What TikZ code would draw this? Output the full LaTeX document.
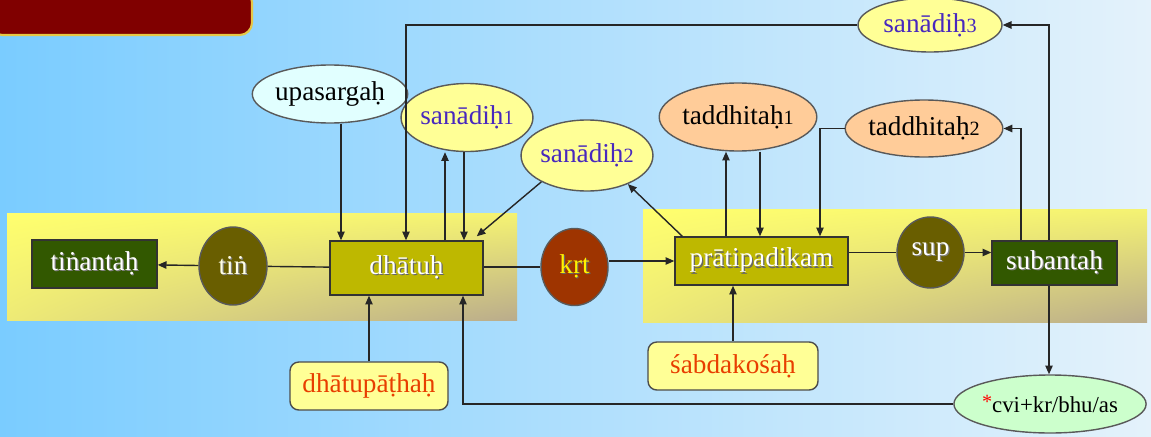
\documentclass[tikz,border=0pt]{standalone}
\usepackage{fontspec}
\setmainfont{Liberation Serif}
\usetikzlibrary{shapes.geometric,arrows.meta,calc,shadings}
\definecolor{bgL}{RGB}{122,204,255}
\definecolor{bgR}{RGB}{228,242,251}
\definecolor{bandY}{RGB}{255,255,110}
\definecolor{bandG}{RGB}{186,172,140}
\definecolor{dgreen}{RGB}{50,88,0}
\definecolor{olbox}{RGB}{190,184,0}
\definecolor{olcirc}{RGB}{105,94,0}
\definecolor{krtc}{RGB}{158,52,0}
\definecolor{lyel}{RGB}{255,255,150}
\definecolor{peach}{RGB}{255,204,153}
\definecolor{lcyan}{RGB}{225,255,255}
\definecolor{lgreen}{RGB}{204,255,204}
\definecolor{btext}{RGB}{72,40,190}
\definecolor{rtext}{RGB}{232,62,0}
\definecolor{tred}{RGB}{128,0,0}
\definecolor{tyel}{RGB}{230,200,70}
\newcommand{\shtx}[2]{\makebox[0pt][l]{\hspace{0.7pt}\raisebox{-0.7pt}{\color{#1}#2}}#2}
\newcommand{\sm}[1]{{\fontsize{11.5}{11.5}\selectfont #1}}
\begin{document}
\begin{tikzpicture}[x=0.02cm,y=-0.02cm,
  font=\rmfamily\fontsize{15.5}{18}\selectfont,
  ln/.style={draw=black!85, line width=0.8pt},
  arr/.style={ln, -{Triangle[length=5pt,width=4.2pt]}},
  rbox/.style={rectangle, draw=black!80, line width=0.8pt, inner sep=0pt},
  ell/.style={ellipse, draw=black!65, line width=0.8pt, inner sep=0pt},
  refbox/.style={rectangle, rounded corners=5pt, draw=black!70, line width=0.8pt, fill=lyel, text=rtext, inner sep=0pt}]
\useasboundingbox (0,0) rectangle (1151,436);
\shade[left color=bgL, right color=bgR] (0,0) rectangle (1151,436);
% title box
\draw[fill=tred, draw=tyel, line width=1.2pt, rounded corners=7pt] (-10,-10) -- (252,-10) -- (252,35) -- (-10,35) -- cycle;
% bands
\shade[upper left=bandY, upper right=bandY!85!bandG, lower left=bandY!75!bandG, lower right=bandG] (7,213) rectangle (517,320);
\shade[upper left=bandY, upper right=bandY!85!bandG, lower left=bandY!75!bandG, lower right=bandG] (643,209) rectangle (1147,322);
% main nodes
\node[rbox, fill=dgreen, minimum width=125*0.02cm, minimum height=48*0.02cm, text=white] (tinanta) at (94.5,264) {\shtx{black!50}{tiṅantaḥ}};
\node[ell, fill=olcirc, minimum width=68*0.02cm, minimum height=78*0.02cm, text=white!90!yellow] (tin) at (233,266) {\shtx{black!50}{tiṅ}};
\node[rbox, fill=olbox, minimum width=153*0.02cm, minimum height=54*0.02cm, text=white] (dhatu) at (406.5,268) {\shtx{black!60}{dhātuḥ}};
\node[ell, fill=krtc, minimum width=67*0.02cm, minimum height=77*0.02cm, text=yellow] (krt) at (574.5,267) {\shtx{black!60}{kṛt}};
\node[rbox, fill=olbox, minimum width=173*0.02cm, minimum height=48*0.02cm, text=white] (prati) at (761.5,261) {\shtx{black!60}{prātipadikam}};
\node[ell, fill=olcirc, minimum width=67*0.02cm, minimum height=71*0.02cm, text=white] (sup) at (930.5,252.5) {\raisebox{4pt}{\shtx{black!50}{sup}}};
\node[rbox, fill=dgreen, minimum width=125*0.02cm, minimum height=44*0.02cm, text=white] (suba) at (1054.5,263) {\shtx{black!50}{subantaḥ}};
% upper ellipses
\node[ell, fill=lcyan, minimum width=136*0.02cm, minimum height=58*0.02cm] (upa) at (330,94) {upasargaḥ};
\node[ell, fill=lyel, minimum width=106*0.02cm, minimum height=68*0.02cm, text=btext] (s1) at (467,117.5) {sanādiḥ\sm{1}};
\node[ell, fill=lyel, minimum width=118*0.02cm, minimum height=71*0.02cm, text=btext] (s2) at (587,155.5) {sanādiḥ\sm{2}};
\node[ell, fill=peach, minimum width=126*0.02cm, minimum height=68*0.02cm] (t1) at (738,117) {taddhitaḥ\sm{1}};
\node[ell, fill=peach, minimum width=136*0.02cm, minimum height=57*0.02cm] (t2) at (924,128.5) {taddhitaḥ\sm{2}};
\node[ell, fill=lyel, minimum width=144*0.02cm, minimum height=54*0.02cm, text=btext] (s3) at (930,25) {sanādiḥ\sm{3}};
% lower nodes
\node[refbox, minimum width=158*0.02cm, minimum height=48*0.02cm] (dpatha) at (369,386) {dhātupāṭhaḥ};
\node[refbox, minimum width=170*0.02cm, minimum height=48*0.02cm] (kosa) at (733,366) {śabdakośaḥ};
\node[ell, fill=lgreen, minimum width=155*0.02cm, minimum height=58*0.02cm, font=\rmfamily\fontsize{13}{15}\selectfont] (cvi) at (1050,404) {\raisebox{2pt}{\textcolor{red}{\sm{*}}}cvi+kr/bhu/as};
% connectors on main line
\draw[arr] (tin) -- (tinanta);
\draw[ln] (dhatu) -- (tin);
\draw[ln] (dhatu.east |- krt) -- (krt);
\draw[arr] (krt.east |- prati) -- (prati);
\draw[ln] (prati.east |- sup) -- (sup);
\draw[arr] (sup) -- (suba.west |- sup);
% into dhatu
\draw[arr] (upa.south -| 341,0) -- (dhatu.north -| 341,0);
\draw[arr] (s3.west) -| (dhatu.north -| 406,0);
\draw[arr] (dhatu.north -| 445,0) -- (s1.south -| 445,0);
\draw[arr] (s1.south -| 464,0) -- (dhatu.north -| 464,0);
\draw[arr] (s2.210) -- ($(dhatu.north east)+(-7,-4)$);
\draw[arr] (dpatha.north) -- (dhatu.south -| dpatha.north);
\draw[arr] (cvi.west) -| (dhatu.south -| 463,0);
% into/out of pratipadikam
\draw[arr] ($(prati.north west)+(8,0)$) -- (s2.-35);
\draw[arr] (prati.north -| 726,0) -- (t1.south -| 726,0);
\draw[arr] (t1.south -| 760,0) -- (prati.north -| 760,0);
\draw[arr] (t2.west) -| (prati.north -| 820,0);
\draw[arr] (kosa.north) -- (prati.south -| kosa.north);
% out of subanta
\draw[arr] (suba.north -| 1021,0) |- (t2.east);
\draw[arr] (suba.north -| 1049,0) |- (s3.east);
\draw[arr] (suba.south -| 1049,0) -- (cvi.north -| 1049,0);
\end{tikzpicture}
\end{document}
